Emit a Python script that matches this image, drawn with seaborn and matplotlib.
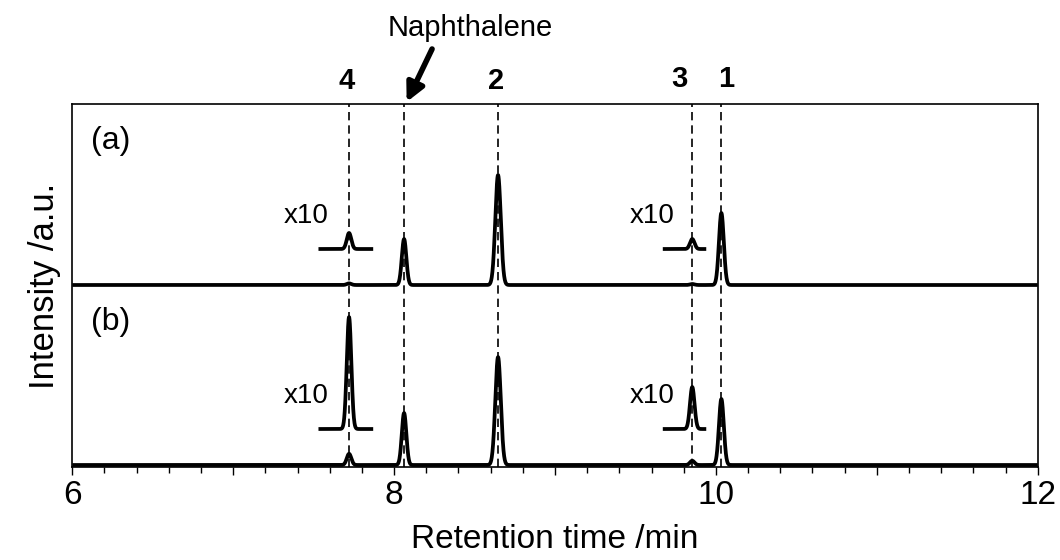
import numpy as np
import pandas as pd
import matplotlib
matplotlib.use("Agg")
import matplotlib.pyplot as plt
from matplotlib.ticker import FixedLocator, MultipleLocator, FuncFormatter
import seaborn as sns

# ---- data ----
peak_names = ["4", "Naphthalene", "2", "3", "1"]
peak_times = [7.72, 8.062, 8.646, 9.853, 10.034]          # min
peak_widths = [0.014, 0.014, 0.017, 0.014, 0.015]         # sigma, min
heights_a = [1.6, 46.0, 110.0, 1.0, 72.0]                 # trace (a)
heights_b = [11.2, 52.0, 108.0, 4.2, 66.0]                # trace (b)
trace_labels = ["(a)", "(b)"]
zoom_factor = 10
zoom_windows = [(7.53, 7.87), (9.67, 9.94)]               # x10 insets around peaks 4 and 3
x_ticks = [6, 8, 10, 12]

sns.set_theme(style="ticks")
plt.rcParams["font.family"] = ["Liberation Sans", "DejaVu Sans"]
plt.rcParams["text.color"] = "black"
plt.rcParams["axes.labelcolor"] = "black"

W, H = 1060, 560
fig = plt.figure(figsize=(W / 100, H / 100), dpi=100)
ax = fig.add_axes([72.3 / W, (H - 467) / H, (1037.7 - 72.3) / W, 363 / H])

t = np.linspace(6, 12, 6001)


def trace(heights):
    y = np.zeros_like(t)
    for t0, s, h in zip(peak_times, peak_widths, heights):
        y += h * np.exp(-0.5 * ((t - t0) / s) ** 2)
    return y


offsets = [180, 0]
inset_lift = 36
lw = 2.7
for heights, off in zip([heights_a, heights_b], offsets):
    y = trace(heights)
    df = pd.DataFrame({"time": t, "intensity": y + off})
    sns.lineplot(data=df, x="time", y="intensity", color="black", lw=lw, ax=ax,
                 estimator=None, sort=False, solid_capstyle="butt")
    for lo, hi in zoom_windows:
        m = (t >= lo) & (t <= hi)
        dz = pd.DataFrame({"time": t[m], "intensity": y[m] * zoom_factor + off + inset_lift})
        sns.lineplot(data=dz, x="time", y="intensity", color="black", lw=lw, ax=ax,
                     estimator=None, sort=False, solid_capstyle="butt")

# dashed guide lines
for t0 in peak_times:
    ax.axvline(t0, color="black", lw=1.2, dashes=(5, 3), zorder=1)

ax.set_xlim(6, 12)
ax.set_ylim(-2, 361)
ax.set_yticks([])
ax.xaxis.set_major_locator(FixedLocator([6, 7, 8, 9, 10, 11, 12]))
ax.xaxis.set_major_formatter(FuncFormatter(lambda v, p: f"{v:g}" if round(v) in x_ticks else ""))
ax.xaxis.set_minor_locator(MultipleLocator(0.2))
ax.tick_params(axis="x", which="major", direction="out", length=6, width=1.0,
               labelsize=24, pad=3, colors="black")
ax.tick_params(axis="x", which="minor", direction="out", length=4, width=1.0, colors="black")
for sp in ax.spines.values():
    sp.set_visible(True)
    sp.set_color("black")
    sp.set_linewidth(1.2)

ax.set_xlabel("Retention time /min", fontsize=24, labelpad=10)
ax.set_ylabel("Intensity /a.u.", fontsize=25, labelpad=8)

# labels
ax.text(6.24, 324, trace_labels[0], fontsize=23, ha="center", va="center")
ax.text(6.24, 143, trace_labels[1], fontsize=23, ha="center", va="center")
for xx in (7.452, 9.603):
    ax.text(xx, 249, f"x{zoom_factor}", fontsize=20, ha="center", va="center")
    ax.text(xx, 69, f"x{zoom_factor}", fontsize=20, ha="center", va="center")

num_x = {"4": 7.707, "2": 8.633, "3": 9.776, "1": 10.062}
num_y = {"4": 384, "2": 384, "3": 386, "1": 386}
for k in num_x:
    ax.text(num_x[k], num_y[k], k, fontsize=21, fontweight="bold", ha="center",
            va="center", clip_on=False)
ax.text(8.472, 437, peak_names[1], fontsize=21, ha="center", va="center", clip_on=False)
ax.annotate("", xy=(8.078, 363), xytext=(8.236, 416), xycoords="data",
            arrowprops=dict(arrowstyle="-|>,head_length=0.9,head_width=0.45",
                            color="black", lw=4.0, shrinkA=0, shrinkB=0),
            annotation_clip=False)

fig.savefig("out.png", dpi=100)
